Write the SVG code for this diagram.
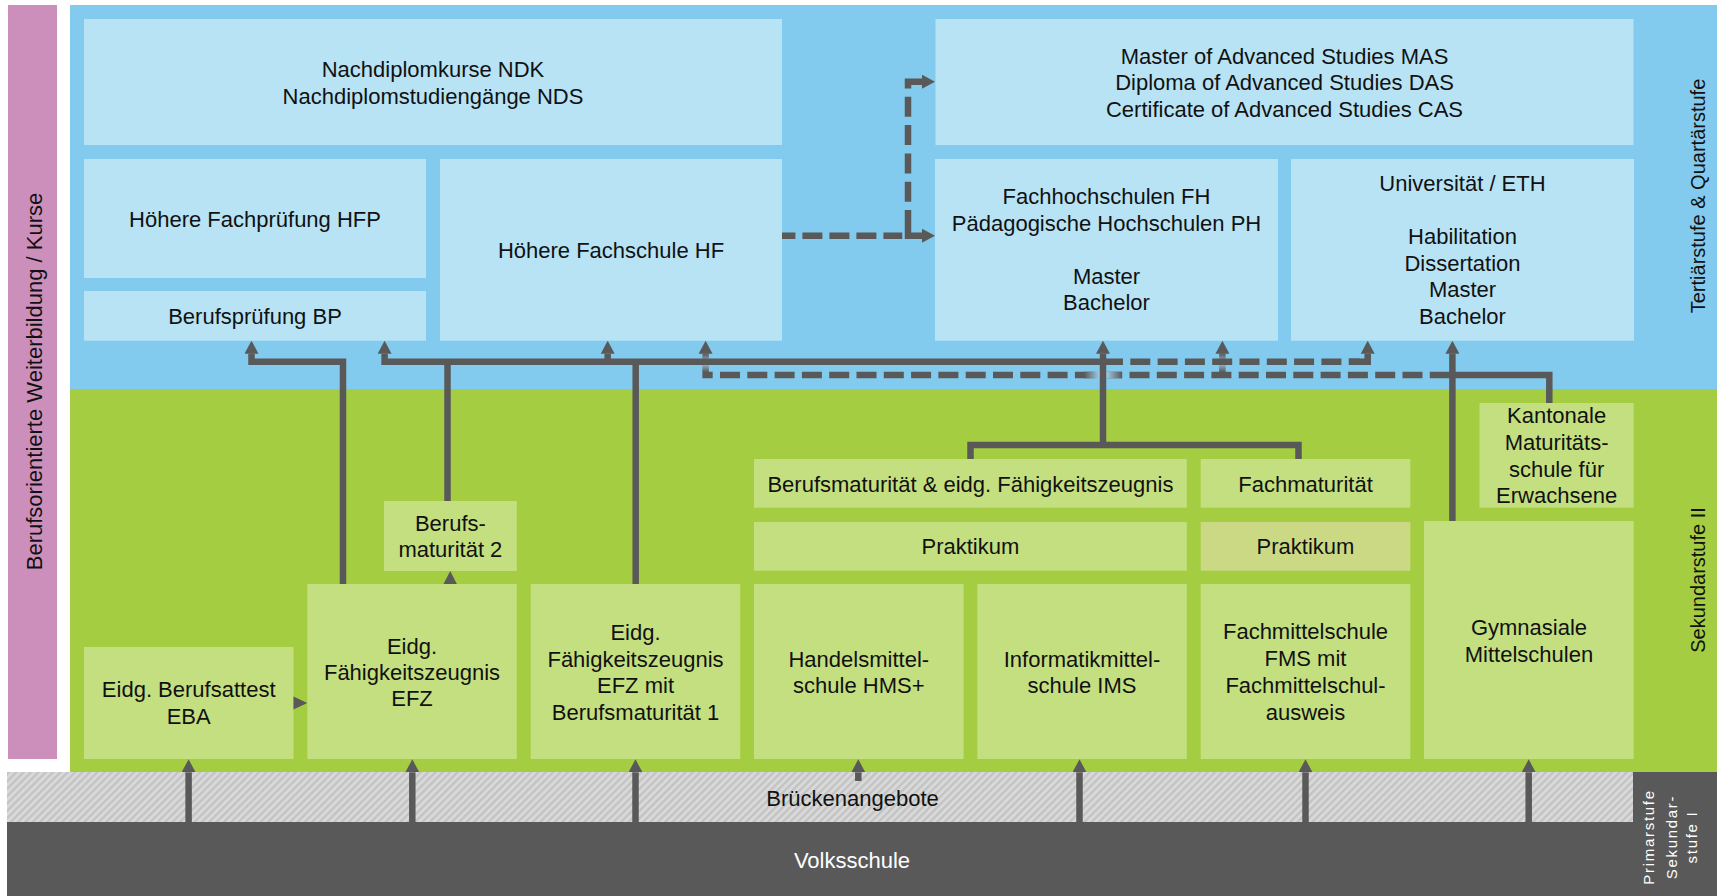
<svg xmlns="http://www.w3.org/2000/svg" width="1719" height="896" viewBox="0 0 1719 896">
<defs>
<style>
.t{font-family:"Liberation Sans",Arial,Helvetica,sans-serif;font-size:22px;fill:#111;text-anchor:middle}
.s20{font-size:20px}
.w{fill:#fff}
.sm{font-size:15px;letter-spacing:1.7px}
.bb{fill:#b7e3f5}
.gb{fill:#c4df80}
.ln{stroke:#595959;stroke-width:6.5;fill:none;stroke-linejoin:miter}
.ds{stroke-dasharray:20 7.3}
.ah{fill:#595959}
</style>
<marker id="ah" markerUnits="userSpaceOnUse" markerWidth="13" markerHeight="14" viewBox="0 0 13 14" refX="0" refY="7" orient="auto"><path d="M0,0 L13,7 L0,14 z" fill="#595959"/></marker>
<pattern id="hatch" width="5.2" height="10" patternUnits="userSpaceOnUse" patternTransform="rotate(45)"><rect width="5.2" height="10" fill="#d9d9d9"/><rect width="2.3" height="10" fill="#c3c3c3"/></pattern>
<linearGradient id="gv" x1="0" y1="0" x2="0" y2="1"><stop offset="0" stop-color="#595959"/><stop offset="0.5" stop-color="#9cc6df"/><stop offset="1" stop-color="#595959"/></linearGradient>
<linearGradient id="gh" x1="0" y1="0" x2="1" y2="0"><stop offset="0" stop-color="#595959"/><stop offset="0.4" stop-color="#a0c8e0"/><stop offset="0.6" stop-color="#a0c8e0"/><stop offset="1" stop-color="#595959"/></linearGradient>
</defs>

<g id="background">
<rect x="70" y="5" width="1647" height="384" fill="#83cbee"/>
<rect x="70" y="389" width="1647" height="383" fill="#a5cd42"/>
<rect x="7" y="772" width="1626" height="50" fill="url(#hatch)"/>
<path d="M7,822H1633V772H1717V896H7Z" fill="#595959"/>
</g>

<g id="weiterbildung">
<rect x="8" y="5" width="49" height="754" fill="#cc8fbb"/>
<text class="t" transform="translate(41.5,381.5) rotate(-90)">Berufsorientierte Weiterbildung / Kurse</text>
</g>

<g id="stufen-labels">
<text class="t s20" transform="translate(1705,196) rotate(-90)">Tertiärstufe &amp; Quartärstufe</text>
<text class="t s20" transform="translate(1705,580) rotate(-90)">Sekundarstufe II</text>
<text class="t w sm" transform="translate(1654,837) rotate(-90)">Primarstufe</text>
<text class="t w sm" transform="translate(1676.5,837) rotate(-90)">Sekundar-</text>
<text class="t w sm" transform="translate(1696.5,837) rotate(-90)">stufe I</text>
</g>

<g id="ndk">
<rect class="bb" x="84" y="19" width="698" height="126"/>
<text class="t" x="433" y="77.3">Nachdiplomkurse NDK</text>
<text class="t" x="433" y="104">Nachdiplomstudiengänge NDS</text>
</g>
<g id="mas">
<rect class="bb" x="935.5" y="19" width="698" height="126"/>
<text class="t" x="1284.5" y="64">Master of Advanced Studies MAS</text>
<text class="t" x="1284.5" y="90.3">Diploma of Advanced Studies DAS</text>
<text class="t" x="1284.5" y="116.6">Certificate of Advanced Studies CAS</text>
</g>
<g id="hfp">
<rect class="bb" x="84" y="159" width="342" height="119"/>
<text class="t" x="255" y="226.7">Höhere Fachprüfung HFP</text>
</g>
<g id="bp">
<rect class="bb" x="84" y="291" width="342" height="49.7"/>
<text class="t" x="255" y="324">Berufsprüfung BP</text>
</g>
<g id="hf">
<rect class="bb" x="440" y="159" width="342" height="181.7"/>
<text class="t" x="611" y="257.7">Höhere Fachschule HF</text>
</g>
<g id="fh">
<rect class="bb" x="935" y="159" width="343" height="181.7"/>
<text class="t" x="1106.5" y="204.3">Fachhochschulen FH</text>
<text class="t" x="1106.5" y="230.8">Pädagogische Hochschulen PH</text>
<text class="t" x="1106.5" y="283.8">Master</text>
<text class="t" x="1106.5" y="310.3">Bachelor</text>
</g>
<g id="uni">
<rect class="bb" x="1291" y="159" width="343" height="181.7"/>
<text class="t" x="1462.5" y="190.8">Universität / ETH</text>
<text class="t" x="1462.5" y="244.3">Habilitation</text>
<text class="t" x="1462.5" y="270.8">Dissertation</text>
<text class="t" x="1462.5" y="297.3">Master</text>
<text class="t" x="1462.5" y="323.8">Bachelor</text>
</g>

<g id="eba">
<rect class="gb" x="84" y="647" width="209.5" height="112"/>
<text class="t" x="188.7" y="697.3">Eidg. Berufsattest</text>
<text class="t" x="188.7" y="724">EBA</text>
</g>
<g id="efz">
<rect class="gb" x="307.3" y="584" width="209.5" height="175"/>
<text class="t" x="412" y="654">Eidg.</text>
<text class="t" x="412" y="680">Fähigkeitszeugnis</text>
<text class="t" x="412" y="706">EFZ</text>
</g>
<g id="bm2">
<rect class="gb" x="384" y="501" width="132.8" height="70"/>
<text class="t" x="450.4" y="530.7">Berufs-</text>
<text class="t" x="450.4" y="556.7">maturität 2</text>
</g>
<g id="efz-bm1">
<rect class="gb" x="530.7" y="584" width="209.5" height="175"/>
<text class="t" x="635.5" y="640">Eidg.</text>
<text class="t" x="635.5" y="666.5">Fähigkeitszeugnis</text>
<text class="t" x="635.5" y="693">EFZ mit</text>
<text class="t" x="635.5" y="719.5">Berufsmaturität 1</text>
</g>
<g id="hms">
<rect class="gb" x="754" y="584" width="209.6" height="175"/>
<text class="t" x="858.8" y="666.7">Handelsmittel-</text>
<text class="t" x="858.8" y="692.7">schule HMS+</text>
</g>
<g id="ims">
<rect class="gb" x="977.3" y="584" width="209.5" height="175"/>
<text class="t" x="1082" y="666.7">Informatikmittel-</text>
<text class="t" x="1082" y="692.7">schule IMS</text>
</g>
<g id="bm-efz">
<rect class="gb" x="754" y="459" width="432.8" height="48.7"/>
<text class="t" x="970.4" y="491.7">Berufsmaturität &amp; eidg. Fähigkeitszeugnis</text>
</g>
<g id="praktikum1">
<rect class="gb" x="754" y="522" width="432.8" height="48.7"/>
<text class="t" x="970.4" y="554">Praktikum</text>
</g>
<g id="fachmaturitaet">
<rect class="gb" x="1200.7" y="459" width="209.6" height="48.7"/>
<text class="t" x="1305.5" y="491.7">Fachmaturität</text>
</g>
<g id="praktikum2">
<rect x="1200.7" y="522" width="209.6" height="48.7" fill="#cbd985"/>
<text class="t" x="1305.5" y="554">Praktikum</text>
</g>
<g id="fms">
<rect class="gb" x="1200.7" y="584" width="209.6" height="175"/>
<text class="t" x="1305.5" y="639.3">Fachmittelschule</text>
<text class="t" x="1305.5" y="666">FMS mit</text>
<text class="t" x="1305.5" y="693">Fachmittelschul-</text>
<text class="t" x="1305.5" y="719.5">ausweis</text>
</g>
<g id="gymnasium">
<rect class="gb" x="1424" y="521" width="209.7" height="238"/>
<text class="t" x="1529" y="635">Gymnasiale</text>
<text class="t" x="1529" y="661.7">Mittelschulen</text>
</g>
<g id="kantonale">
<rect class="gb" x="1479.5" y="403" width="154.2" height="104.7"/>
<text class="t" x="1556.6" y="423.3">Kantonale</text>
<text class="t" x="1556.6" y="450">Maturitäts-</text>
<text class="t" x="1556.6" y="476.7">schule für</text>
<text class="t" x="1556.6" y="503.3">Erwachsene</text>
</g>

<g id="brueckenangebote">
<text class="t" x="852.5" y="805.7">Brückenangebote</text>
</g>
<g id="volksschule">
<text class="t w" x="852" y="868">Volksschule</text>
</g>

<g id="connectors">
<path class="ln" marker-end="url(#ah)" d="M188.6,822V772.3"/>
<path class="ln" marker-end="url(#ah)" d="M412.3,822V772.3"/>
<path class="ln" marker-end="url(#ah)" d="M635.5,822V772.3"/>
<path class="ln" marker-end="url(#ah)" d="M858.3,781V772.3"/>
<path class="ln" marker-end="url(#ah)" d="M1079.5,822V772.3"/>
<path class="ln" marker-end="url(#ah)" d="M1305.5,822V772.3"/>
<path class="ln" marker-end="url(#ah)" d="M1528.7,822V772.3"/>
<polygon class="ah" points="293.5,696.5 307.3,703 293.5,709.5"/>
<polygon class="ah" points="443.5,584 450.2,571 456.9,584"/>

<rect x="702.35" y="353.7" width="6.5" height="18.3" fill="url(#gv)"/>
<rect x="1219.15" y="353.7" width="6.5" height="18.3" fill="url(#gv)"/>
<path class="ln" d="M1549.3,403V375H1433"/>
<path class="ln ds" d="M720,375H1433"/>
<rect x="702.35" y="371.75" width="10.35" height="6.5" fill="#595959"/>
<rect x="1084" y="371.75" width="38" height="6.5" fill="url(#gh)"/>
<polygon class="ah" points="698.6,353.7 705.6,340.7 712.6,353.7"/>
<polygon class="ah" points="1215.4,353.7 1222.4,340.7 1229.4,353.7"/>

<path class="ln" marker-end="url(#ah)" d="M343,584V361.7H251.5V353.7"/>
<path class="ln" d="M447.5,501V361.7"/>
<path class="ln" d="M635.7,584V361.7"/>
<path class="ln" marker-end="url(#ah)" d="M1103,361.7H384.6V353.7"/>
<path class="ln" marker-end="url(#ah)" d="M607.7,361.7V353.7"/>
<path class="ln" marker-end="url(#ah)" d="M1103,445V353.7"/>
<path class="ln" d="M970.5,459V445H1298.5V459"/>
<path class="ln ds" d="M1103,361.7H1360"/>
<path class="ln" marker-end="url(#ah)" d="M1349,361.7H1367.7V353.7"/>
<path class="ln" marker-end="url(#ah)" d="M1452.4,521V353.7"/>

<path class="ln" style="stroke-dasharray:20 7;stroke-dashoffset:6.6" d="M782,235.7H902.3"/>
<path class="ln" marker-end="url(#ah)" d="M908,230V235.7H922"/>
<path class="ln" style="stroke-dasharray:20 8.3" d="M908,230V88"/>
<path class="ln" marker-end="url(#ah)" d="M908,88V81.7H922"/>
</g>
</svg>
